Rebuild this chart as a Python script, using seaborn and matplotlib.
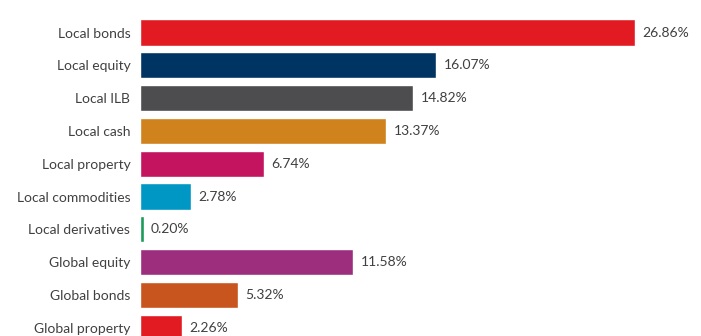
import matplotlib
matplotlib.use("Agg")
import matplotlib.pyplot as plt
import seaborn as sns
import pandas as pd

categories = ["Local bonds", "Local equity", "Local ILB", "Local cash", "Local property",
              "Local commodities", "Local derivatives", "Global equity", "Global bonds",
              "Global property"]
values = [26.86, 16.07, 14.82, 13.37, 6.74, 2.78, 0.20, 11.58, 5.32, 2.26]
colors = ["#E21B23", "#003462", "#4D4D4F", "#D0821C", "#C4145F", "#0097C4",
          "#1A9A5B", "#9C2E7D", "#C8551D", "#E21B23"]

df = pd.DataFrame({"category": categories, "value": values})

sns.set_theme(style="white")
plt.rcParams['font.family'] = ['Lato', 'DejaVu Sans']

fig = plt.figure(figsize=(7.01, 3.36), dpi=100)
ax = fig.add_axes([140/701, 0, 1 - 140/701, 1])

sns.barplot(data=df, x="value", y="category", hue="category",
            palette=dict(zip(categories, colors)), legend=False,
            width=0.8, ax=ax, saturation=1)

ax.set_ylim(9.253, -0.991)
ax.set_xlim(0, 30.44)
for i, v in enumerate(values):
    ax.text(v + 0.4, i, f"{v:.2f}%", va="center", ha="left",
            fontsize=10, color="#404040")

ax.set_xlabel("")
ax.set_ylabel("")
ax.set_xticks([])
ax.tick_params(axis="y", length=0, pad=7, labelsize=10, labelcolor="#404040")
for s in ax.spines.values():
    s.set_visible(False)

fig.savefig("out.png", dpi=100)
